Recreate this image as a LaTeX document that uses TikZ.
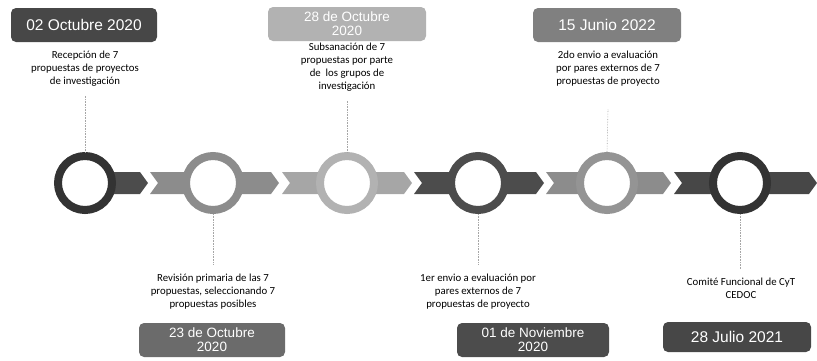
\documentclass[tikz,border=0pt]{standalone}
\usepackage{fontspec}
\setmainfont{Carlito}
\newfontfamily\datefont{Liberation Sans}
\begin{document}
\begin{tikzpicture}[x=1pt,y=-1pt,
  ring/.style={circle,draw=#1,line width=8pt,fill=white,minimum size=54pt,inner sep=0pt},
  datebox/.style={fill=#1,text=white,rounded corners=5pt,font=\datefont\fontsize{15.5}{15}\selectfont,align=center,inner sep=0pt},
  twoline/.style={font=\datefont\fontsize{13.5}{14}\selectfont},
  desc/.style={font=\fontsize{10.8}{13}\selectfont,align=center,inner sep=1pt},
  link/.style={draw=gray!70,densely dotted,line width=0.6pt}]
\useasboundingbox (0,0) rectangle (817,360);
% chevron segments
\newcommand{\seg}[3]{\fill[#3] (#1,172) -- (#2-8,172) -- (#2,183) -- (#2-8,194) -- (#1,194) -- (#1+8,183) -- cycle;}
\seg{70}{148}{black!70}
\seg{150}{279}{black!45}
\seg{282}{412}{black!35}
\seg{414}{544}{black!70}
\seg{546}{671}{black!45}
\seg{674}{817}{black!72}
% rings
\node[ring=black!80] (c1) at (85,183) {};
\node[ring=black!45] (c2) at (213,183) {};
\node[ring=black!30] (c3) at (347,183) {};
\node[ring=black!70] (c4) at (478,183) {};
\node[ring=black!42] (c5) at (607,183) {};
\node[ring=black!80] (c6) at (740,183) {};
% date boxes
\node[datebox=black!72,minimum width=146pt,minimum height=34pt] (d1) at (84,25) {02 Octubre 2020};
\node[datebox=black!30,twoline,minimum width=158pt,minimum height=34pt] (d3) at (347,24) {28 de Octubre\\2020};
\node[datebox=black!50,minimum width=148pt,minimum height=34pt] (d5) at (607,25) {15 Junio 2022};
\node[datebox=black!58,twoline,minimum width=146pt,minimum height=34pt] (d2) at (212,340) {23 de Octubre\\2020};
\node[datebox=black!70,twoline,minimum width=152pt,minimum height=34pt] (d4) at (533,340) {01 de Noviembre\\2020};
\node[datebox=black!72,minimum width=148pt,minimum height=30pt] (d6) at (737,337) {28 Julio 2021};
% descriptions
\node[desc,anchor=north] (t1) at (85,50) {Recepción de 7\\propuestas de proyectos\\de investigación};
\node[desc,anchor=north] (t3) at (347,42) {Subsanación de 7\\propuestas por parte\\de \ los grupos de\\investigación};
\node[desc,anchor=north] (t5) at (608,50) {2do envio a evaluación\\por pares externos de 7\\propuestas de proyecto};
\node[desc,anchor=south] (t2) at (213,310) {Revisión primaria de las 7\\propuestas, seleccionando 7\\propuestas posibles};
\node[desc,anchor=south] (t4) at (478,310) {1er envio a evaluación por\\pares externos de 7\\propuestas de proyecto};
\node[desc,anchor=south] (t6) at (741,300) {Comité Funcional de CyT\\CEDOC};
% dotted connectors
\draw[link] (t1.south) ++(0,8) -- (c1.north);
\draw[link] (t3.south) ++(0,8) -- (c3.north);
\draw[link] (t5.south) ++(0,22) -- (c5.north);
\draw[link] (c2.south) -- ++(0,50);
\draw[link] (c4.south) -- ++(0,50);
\draw[link] (c6.south) -- ++(0,55);
\end{tikzpicture}
\end{document}
